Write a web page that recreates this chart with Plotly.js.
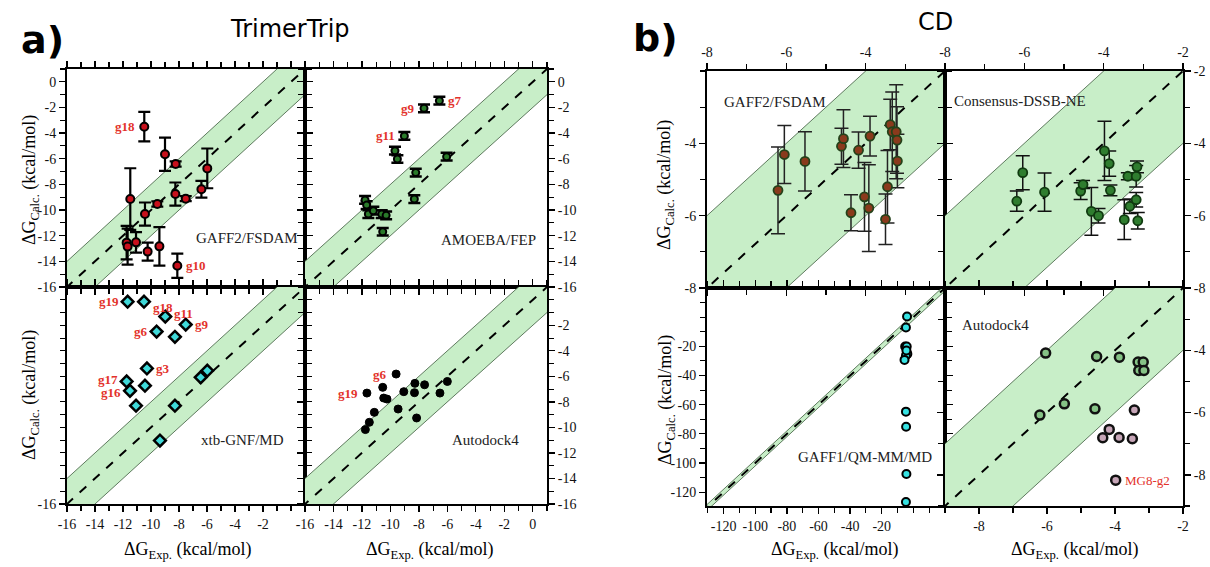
<!DOCTYPE html>
<html><head><meta charset="utf-8">
<script src="https://cdn.plot.ly/plotly-3.0.1.min.js"></script>
<style>html,body{margin:0;padding:0;background:#fff}#chart{width:1210px;height:567px}</style>
</head><body><div id="chart"></div>
<script>
// ---------- a) TrimerTrip ----------
const ttGaffX   = [-10.48,-9.00,-8.24,-5.98,-6.40,-8.26,-7.52,-9.55,-10.43,-11.48,-11.74,-11.67,-11.07,-10.24,-9.40,-8.12];
const ttGaffY   = [-3.50,-5.65,-6.41,-6.75,-8.38,-8.75,-9.11,-9.53,-10.31,-9.14,-12.54,-12.85,-12.52,-13.24,-12.83,-14.34];
const ttGaffErr = [1.15,1.3,0.2,1.55,0.65,0.9,0.2,0.2,0.9,2.4,1.3,1.4,0.8,0.7,1.5,0.95];
const ttGaffLbl = [{i:0,t:'g18',s:'l'},{i:15,t:'g10',s:'r'}];

const ttAmoebaX   = [-6.56,-7.64,-9.02,-9.68,-9.51,-6.05,-8.22,-8.32,-11.78,-11.67,-11.55,-11.20,-10.61,-10.30,-10.54];
const ttAmoebaY   = [-1.47,-2.07,-4.22,-5.37,-6.02,-5.84,-7.08,-9.14,-9.21,-9.61,-10.31,-10.05,-10.31,-10.41,-11.69];
const ttAmoebaErr = [0.3,0.3,0.3,0.3,0.3,0.3,0.3,0.3,0.3,0.3,0.3,0.3,0.3,0.3,0.3];
const ttAmoebaLbl = [{i:0,t:'g7',s:'r'},{i:1,t:'g9',s:'l'},{i:2,t:'g11',s:'l'}];

const ttXtbX = [-11.67,-10.50,-8.98,-7.52,-9.60,-8.29,-10.29,-11.74,-10.43,-11.50,-11.07,-8.29,-6.45,-5.98,-9.36];
const ttXtbY = [-0.15,-0.15,-1.32,-1.94,-2.49,-2.90,-5.38,-6.40,-6.73,-7.13,-8.30,-8.30,-6.08,-5.56,-11.03];
const ttXtbLbl = [{i:0,t:'g19',s:'l'},{i:1,t:'g18',s:'r',dy:-6},{i:2,t:'g11',s:'r',dy:3},{i:3,t:'g9',s:'r'},
                  {i:4,t:'g6',s:'l'},{i:6,t:'g3',s:'r'},{i:7,t:'g17',s:'l',dy:2},{i:9,t:'g16',s:'l',dy:-2}];

const ttDockX = [-9.60,-11.65,-10.54,-10.47,-10.24,-9.06,-8.28,-8.31,-7.60,-6.00,-6.52,-9.46,-8.16,-11.13,-11.48,-11.76];
const ttDockY = [-5.82,-7.31,-6.86,-7.70,-7.78,-7.20,-6.55,-7.28,-6.66,-6.40,-7.31,-8.56,-9.26,-8.82,-9.60,-10.17];
const ttDockLbl = [{i:0,t:'g6',s:'l'},{i:1,t:'g19',s:'l'}];

// ---------- b) CD ----------
const cdGaffX   = [-6.21,-6.05,-5.53,-4.61,-4.56,-4.18,-3.89,-4.37,-4.03,-3.92,-3.50,-3.45,-3.38,-3.33,-3.23,-3.21,-3.20];
const cdGaffY   = [-5.30,-4.31,-4.50,-4.08,-3.87,-4.19,-3.80,-5.92,-5.48,-5.79,-6.10,-5.20,-3.48,-3.68,-3.68,-3.91,-4.49];
const cdGaffErr = [1.2,0.8,0.82,0.5,0.8,0.5,0.55,0.5,0.95,1.2,0.7,1.0,0.7,1.1,1.3,0.92,0.74];

const cdDssbX   = [-6.19,-6.04,-5.49,-4.58,-4.52,-4.31,-4.13,-3.98,-3.86,-3.83,-3.39,-3.18,-3.16,-3.48,-3.34,-3.18,-3.14];
const cdDssbY   = [-5.60,-4.81,-5.35,-5.32,-5.14,-5.88,-6.00,-4.21,-4.56,-5.30,-4.91,-4.91,-4.65,-6.11,-5.74,-5.56,-6.14];
const cdDssbErr = [0.28,0.47,0.53,0.23,0.11,0.66,0.2,0.82,0.35,0.15,0.1,0.3,0.16,0.55,0.2,0.2,0.23];

const cdQmX = [-4.0,-4.7,-5.2,-4.2,-3.8,-4.7,-5.6,-4.4,-4.7,-4.6,-4.4,-4.7];
const cdQmY = [0.5,-7.1,-20.1,-20.1,-25.2,-26.3,-29.3,-22.9,-64.8,-75.1,-107.6,-126.7];

const cdDockX = [-6.04,-4.54,-3.87,-3.32,-3.17,-3.30,-3.15,-5.49,-6.21,-4.59,-3.43,-4.17,-4.36,-3.88,-3.49,-3.98];
const cdDockY = [-4.09,-4.20,-4.22,-4.38,-4.38,-4.65,-4.65,-5.72,-6.08,-5.88,-5.92,-6.54,-6.81,-6.80,-6.84,-8.17];
const cdDockLbl = [{i:15,t:'MG8-g2',s:'r'}];

// tick labels
const aTicks16to0 = [0,-2,-4,-6,-8,-10,-12,-14,-16];
const aTicks16to2 = [-2,-4,-6,-8,-10,-12,-14,-16];
const bTicks8to4 = [-4,-6,-8];
const bTicks8to2 = [-2,-4,-6,-8];
const bTicks120 = [-20,-40,-60,-80,-100,-120];
const BAND = 2;

// ---------- layout helpers ----------
const W = 1210, H = 567;
const serif = 'Liberation Serif, Times New Roman, serif';
const fx = (a,b)=>[a/W,b/W];
const fy = (t,b)=>[1-b/H,1-t/H];

const layout = {
  width: W, height: H, margin:{l:0,r:0,t:0,b:0},
  paper_bgcolor:'#fff', plot_bgcolor:'#fff', showlegend:false,
  annotations:[], font:{family:serif, size:14, color:'#000'}
};
const traces = [];

function axis(dom, range, o){
  const a = {domain:dom, range:range, autorange:false, showline:true, linecolor:'#000', linewidth:2,
    mirror:'ticks', ticks:'outside', ticklen:6, tickwidth:1.3, tickcolor:'#000',
    showgrid:false, zeroline:false, fixedrange:true,
    tickfont:{family:serif, size:14, color:'#111'},
    minor:{dtick:o.minor, ticks:'outside', ticklen:5, tickwidth:1.1, tickcolor:'#000', showgrid:false}};
  if (o.labels){ a.tickmode='array'; a.tickvals=o.labels; a.ticktext=o.labels.map(String); a.showticklabels=true; }
  else { a.dtick=o.minor*2; a.showticklabels=false; }
  if (o.side) a.side=o.side;
  return a;
}

function panel(n, xd, yd, xr, yr, xo, yo){
  const s = n===1?'':String(n);
  layout['xaxis'+s] = Object.assign(axis(fx(xd[0],xd[1]), xr, xo), {anchor:'y'+s});
  layout['yaxis'+s] = Object.assign(axis(fy(yd[0],yd[1]), yr, yo), {anchor:'x'+s});
  const lo = Math.min(xr[0],yr[0])-20, hi = Math.max(xr[1],yr[1])+20;
  traces.push({x:[lo,hi,hi,lo,lo], y:[lo+BAND,hi+BAND,hi-BAND,lo-BAND,lo+BAND], xaxis:'x'+s, yaxis:'y'+s,
    mode:'lines', fill:'toself', fillcolor:'#c8eec8', line:{color:'#3c5a3c', width:0.8}, hoverinfo:'skip'});
  traces.push({x:[lo,hi], y:[lo,hi], xaxis:'x'+s, yaxis:'y'+s, mode:'lines',
    line:{color:'#000', width:2, dash:'dash'}, hoverinfo:'skip'});
  return s;
}

function labels(s, X, Y, L, opt){
  L.forEach(l=>{
    layout.annotations.push({xref:'x'+s, yref:'y'+s, x:X[l.i], y:Y[l.i], text:l.t, showarrow:false,
      xanchor: l.s==='l'?'right':'left', xshift: l.s==='l'?-7:7, yshift: l.dy||0,
      font:{family:serif, size:opt&&opt.size||13, color:'#e3322b', weight: opt&&opt.normal?400:700}});
  });
}

function pxAnn(text, x, y, font, extra){
  layout.annotations.push(Object.assign({xref:'paper', yref:'paper', x:x/W, y:1-y/H, text:text, showarrow:false,
    xanchor:'center', yanchor:'middle', font:font}, extra||{}));
}

// ---------- panel a ----------
let s;
s = panel(1, [67,305], [69,287], [-16,1], [-16,1], {minor:1}, {minor:1, labels:aTicks16to0});
traces.push({x:ttGaffX, y:ttGaffY, xaxis:'x'+s, yaxis:'y'+s, mode:'markers',
  marker:{symbol:'circle', size:8, color:'#c8101c', line:{color:'#000', width:2}},
  error_y:{type:'data', array:ttGaffErr, visible:true, color:'#000', thickness:2.2, width:6}});
labels(s, ttGaffX, ttGaffY, ttGaffLbl);

s = panel(2, [305,547], [69,287], [-16,1], [-16,1], {minor:1}, {minor:1, labels:aTicks16to0, side:'right'});
traces.push({x:ttAmoebaX, y:ttAmoebaY, xaxis:'x'+s, yaxis:'y'+s, mode:'markers',
  marker:{symbol:'circle', size:7, color:'#2a7a2a', line:{color:'#000', width:2}},
  error_y:{type:'data', array:ttAmoebaErr, visible:true, color:'#000', thickness:2.5, width:6}});
labels(s, ttAmoebaX, ttAmoebaY, ttAmoebaLbl);

s = panel(3, [67,305], [287,504], [-16,1], [-16,1], {minor:1, labels:[-16,-14,-12,-10,-8,-6,-4,-2]}, {minor:1, labels:[-16]});
traces.push({x:ttXtbX, y:ttXtbY, xaxis:'x'+s, yaxis:'y'+s, mode:'markers',
  marker:{symbol:'diamond', size:9, color:'#3fd9d9', line:{color:'#000', width:2.5}}});
labels(s, ttXtbX, ttXtbY, ttXtbLbl);

s = panel(4, [305,547], [287,504], [-16,1], [-16,1], {minor:1, labels:[-16,-14,-12,-10,-8,-6,-4,-2,0]}, {minor:1, labels:aTicks16to2, side:'right'});
traces.push({x:ttDockX, y:ttDockY, xaxis:'x'+s, yaxis:'y'+s, mode:'markers',
  marker:{symbol:'circle', size:8, color:'#000', line:{color:'#000', width:1}}});
labels(s, ttDockX, ttDockY, ttDockLbl);

// ---------- panel b ----------
s = panel(5, [707,945], [71,288], [-8,-2], [-8,-2], {minor:1, labels:[-8,-6,-4], side:'top'}, {minor:1, labels:bTicks8to4});
traces.push({x:cdGaffX, y:cdGaffY, xaxis:'x'+s, yaxis:'y'+s, mode:'markers',
  marker:{symbol:'circle', size:9, color:'#8a3a1c', line:{color:'#24421a', width:1.8}},
  error_y:{type:'data', array:cdGaffErr, visible:true, color:'#222', thickness:1.5, width:7}});

s = panel(6, [945,1183], [71,288], [-8,-2], [-8,-2], {minor:1, labels:[-8,-6,-4,-2], side:'top'}, {minor:1, labels:bTicks8to2, side:'right'});
traces.push({x:cdDssbX, y:cdDssbY, xaxis:'x'+s, yaxis:'y'+s, mode:'markers',
  marker:{symbol:'circle', size:9, color:'#2f7d2f', line:{color:'#103a10', width:1.8}},
  error_y:{type:'data', array:cdDssbErr, visible:true, color:'#111', thickness:1.5, width:7}});

s = panel(7, [707,945], [288,506], [-130.5,20], [-129.5,20], {minor:10, labels:[-120,-100,-80,-60,-40,-20]}, {minor:10, labels:bTicks120});
traces.push({x:cdQmX, y:cdQmY, xaxis:'x'+s, yaxis:'y'+s, mode:'markers', cliponaxis:false,
  marker:{symbol:'circle', size:8, color:'#36e2e2', line:{color:'#000', width:2}}});

s = panel(8, [945,1183], [288,506], [-9,-2], [-9,-2], {minor:1, labels:[-8,-6,-4,-2]}, {minor:1, labels:bTicks8to4, side:'right'});
traces.push({x:cdDockX, y:cdDockY, xaxis:'x'+s, yaxis:'y'+s, mode:'markers',
  marker:{symbol:'circle', size:9, line:{color:'#111', width:2.5},
    color: cdDockX.map((x,i)=> Math.abs(cdDockY[i]-x)<=BAND ? '#86c386' : '#c7a6b8')}});
labels(s, cdDockX, cdDockY, cdDockLbl, {normal:true, size:13});

// ---------- text ----------
const pf = {family:serif, size:15, color:'#222'};
pxAnn('GAFF2/FSDAM', 247, 238, pf);
pxAnn('AMOEBA/FEP', 488, 240, pf);
pxAnn('xtb-GNF/MD', 242, 440, pf);
pxAnn('Autodock4', 485, 440, pf);
pxAnn('GAFF2/FSDAM', 775, 102, pf);
pxAnn('Consensus-DSSB-NE', 1020, 101, pf);
pxAnn('GAFF1/QM-MM/MD', 865, 457, pf);
pxAnn('Autodock4', 995, 325, pf);

const tf = {family:serif, size:18, color:'#000'};
const xt = 'ΔG<sub>Exp.</sub> (kcal/mol)';
const yt = 'ΔG<sub>Calc.</sub> (kcal/mol)';
pxAnn(xt, 188, 550, tf);
pxAnn(xt, 430, 550, tf);
pxAnn(xt, 835, 550, tf);
pxAnn(xt, 1075, 550, tf);
pxAnn(yt, 30, 180, tf, {textangle:-90});
pxAnn(yt, 30, 395, tf, {textangle:-90});
pxAnn(yt, 666, 185, tf, {textangle:-90});
pxAnn(yt, 666, 400, tf, {textangle:-90});

pxAnn('TrimerTrip', 290, 29, {family:'DejaVu Sans', size:24, color:'#000'});
pxAnn('CD', 935, 22, {family:'DejaVu Sans', size:24, color:'#000'});
pxAnn('<b>a)</b>', 42, 40, {family:'DejaVu Sans', size:38, color:'#000'});
pxAnn('<b>b)</b>', 656, 38, {family:'DejaVu Sans', size:38, color:'#000'});

Plotly.newPlot('chart', traces, layout, {staticPlot:true, displayModeBar:false});
</script></body></html>
